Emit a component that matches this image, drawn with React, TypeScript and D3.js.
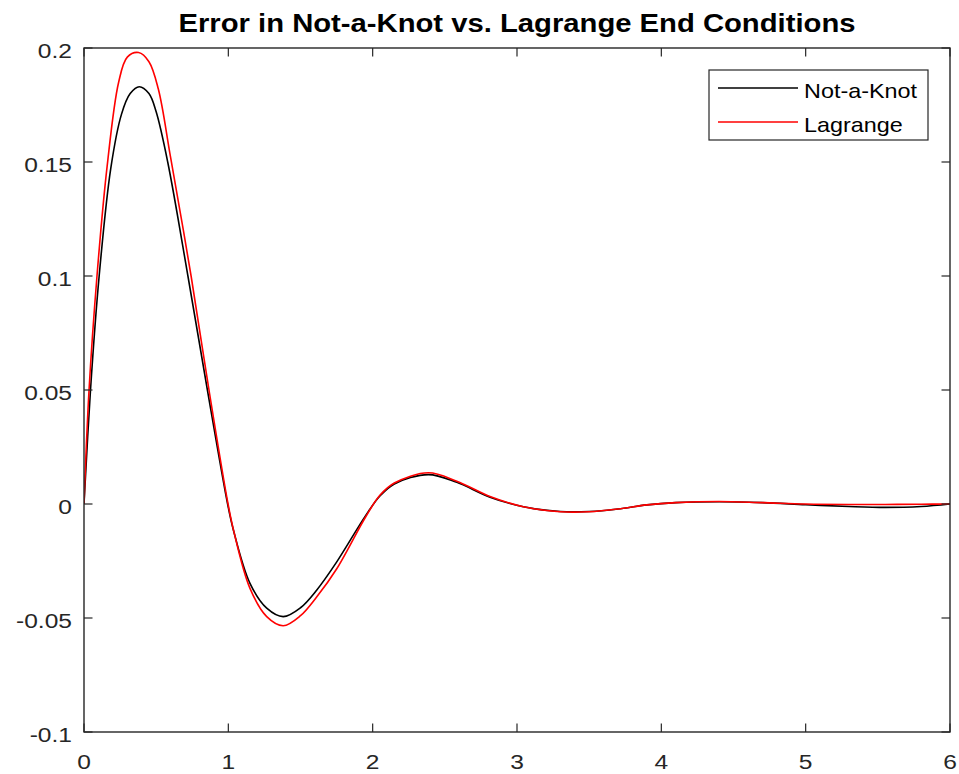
import React from "react";
import * as d3 from "d3";

const titleText = "Error in Not-a-Knot vs. Lagrange End Conditions";
const seriesNames = ["Not-a-Knot", "Lagrange"];

const notAKnotX = [0, 0.045, 0.105, 0.185, 0.26, 0.32, 0.383, 0.45, 0.5, 0.58, 0.72, 0.855, 0.995, 1.035, 1.15, 1.266, 1.38, 1.5, 1.613, 1.75, 1.95, 2.05, 2.15, 2.386, 2.583, 2.813, 3.044, 3.3, 3.5, 3.7, 3.9, 4.1, 4.4, 4.7, 5.0, 5.3, 5.55, 5.8, 6.0];
const notAKnotY = [0, 0.05, 0.1, 0.147, 0.171, 0.18, 0.183, 0.18, 0.172, 0.15, 0.1, 0.05, 0, -0.0114, -0.0348, -0.0457, -0.0494, -0.0455, -0.0377, -0.0255, -0.0052, 0.0035, 0.0088, 0.0129, 0.0095, 0.003, -0.0012, -0.0033, -0.0033, -0.0022, -0.0004, 0.0006, 0.001, 0.0006, -0.0003, -0.0011, -0.0015, -0.0011, 0];

const lagrangeX = [0, 0.035, 0.09, 0.16, 0.24, 0.3, 0.378, 0.45, 0.515, 0.6, 0.742, 0.866, 0.998, 1.038, 1.15, 1.266, 1.38, 1.5, 1.613, 1.75, 1.95, 2.05, 2.15, 2.386, 2.583, 2.813, 3.044, 3.3, 3.5, 3.7, 3.9, 4.1, 4.4, 4.7, 5.0, 5.3, 5.55, 5.8, 6.0];
const lagrangeY = [0, 0.05, 0.1, 0.148, 0.185, 0.196, 0.198, 0.194, 0.182, 0.152, 0.1, 0.05, 0, -0.012, -0.037, -0.0494, -0.0534, -0.049, -0.0407, -0.0285, -0.0058, 0.0038, 0.0092, 0.0137, 0.01, 0.0033, -0.0012, -0.0034, -0.0034, -0.0022, -0.0004, 0.0006, 0.0011, 0.0006, 0, -0.0002, -0.0002, -0.0001, 0];

const xTicks = [0, 1, 2, 3, 4, 5, 6];
const xTickLabels = ["0", "1", "2", "3", "4", "5", "6"];
const yTicks = [-0.1, -0.05, 0, 0.05, 0.1, 0.15, 0.2];
const yTickLabels = ["-0.1", "-0.05", "0", "0.05", "0.1", "0.15", "0.2"];

const W = 959;
const H = 774;
const left = 84, right = 950, top = 48, bottom = 732;
const axisColor = "#262626";
const font = "'Liberation Sans', Arial, Helvetica, sans-serif";
const SX = 1.17;
const tickLen = 8.5;

export default function App() {
  const x = d3.scaleLinear().domain([0, 6]).range([left, right]);
  const y = d3.scaleLinear().domain([-0.1, 0.2]).range([bottom, top]);
  const line = d3
    .line<[number, number]>()
    .x((d) => x(d[0]))
    .y((d) => y(d[1]))
    .curve(d3.curveCatmullRom.alpha(0.5));

  const nak: [number, number][] = notAKnotX.map((v, i) => [v, notAKnotY[i]]);
  const lag: [number, number][] = lagrangeX.map((v, i) => [v, lagrangeY[i]]);
  const colors = ["#000000", "#ff0000"];

  const legX = 709, legY = 70, legW = 219, legH = 70;

  return (
    <svg
      width={W}
      height={H}
      style={{ position: "absolute", left: 0, top: 0, background: "#fff" }}
      fontFamily={font}
    >
      <rect x={0} y={0} width={W} height={H} fill="#fff" />
      <defs>
        <clipPath id="plotclip">
          <rect x={left} y={top} width={right - left} height={bottom - top} />
        </clipPath>
      </defs>
      {/* curves */}
      <g clipPath="url(#plotclip)" fill="none" strokeWidth={1.6} strokeLinejoin="round">
        <path d={line(nak) || ""} stroke={colors[0]} />
        <path d={line(lag) || ""} stroke={colors[1]} />
      </g>
      {/* axes box */}
      <rect
        x={left}
        y={top}
        width={right - left}
        height={bottom - top}
        fill="none"
        stroke={axisColor}
        strokeWidth={1.4}
      />
      {/* x ticks */}
      {xTicks.map((t, i) => (
        <g key={"xt" + i}>
          <line x1={x(t)} x2={x(t)} y1={bottom} y2={bottom - tickLen} stroke={axisColor} strokeWidth={1.2} />
          <line x1={x(t)} x2={x(t)} y1={top} y2={top + tickLen} stroke={axisColor} strokeWidth={1.2} />
          <text
            transform={`translate(${x(t)},${769}) scale(${SX},1)`}
            textAnchor="middle"
            fontSize={21}
            fill={axisColor}
          >
            {xTickLabels[i]}
          </text>
        </g>
      ))}
      {/* y ticks */}
      {yTicks.map((t, i) => (
        <g key={"yt" + i}>
          <line x1={left} x2={left + tickLen} y1={y(t)} y2={y(t)} stroke={axisColor} strokeWidth={1.2} />
          <line x1={right} x2={right - tickLen} y1={y(t)} y2={y(t)} stroke={axisColor} strokeWidth={1.2} />
          <text
            transform={`translate(${72},${y(t) + 9.5}) scale(${SX},1)`}
            textAnchor="end"
            fontSize={21}
            fill={axisColor}
          >
            {yTickLabels[i]}
          </text>
        </g>
      ))}
      {/* title */}
      <text
        x={(left + right) / 2}
        y={32}
        textAnchor="middle"
        fontSize={25}
        fontWeight="bold"
        fill="#000"
        textLength={677}
        lengthAdjust="spacingAndGlyphs"
      >
        {titleText}
      </text>
      {/* legend */}
      <rect x={legX} y={legY} width={legW} height={legH} fill="#fff" stroke={axisColor} strokeWidth={1.2} />
      {seriesNames.map((name, i) => {
        const ly = i === 0 ? 88 : 122;
        return (
          <g key={name}>
            <line x1={718} x2={798} y1={ly} y2={ly} stroke={colors[i]} strokeWidth={1.6} />
            <text
              transform={`translate(${804},${ly + 9.5}) scale(${SX},1)`}
              fontSize={20}
              fill="#000"
            >
              {name}
            </text>
          </g>
        );
      })}
    </svg>
  );
}
